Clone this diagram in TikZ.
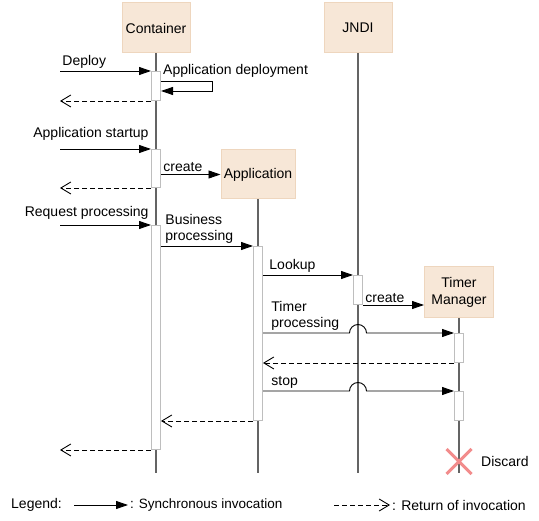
\documentclass[tikz,border=0pt]{standalone}
\usepackage{fontspec}
\setmainfont{Liberation Sans}
\usetikzlibrary{positioning}
\usetikzlibrary{arrows.meta,calc}
\definecolor{boxfill}{RGB}{247,231,215}
\definecolor{boxline}{RGB}{238,214,190}
\definecolor{lifegray}{RGB}{100,100,100}
\definecolor{bargray}{RGB}{190,190,190}
\definecolor{crosspink}{RGB}{242,140,140}
\tikzset{
 lbl/.style={font=\fontsize{14}{16.5}\selectfont,inner sep=2pt,align=left},
 lifebox/.style={lbl,draw=boxline,fill=boxfill,line width=1pt,align=center,minimum width=68,minimum height=50},
 life/.style={draw=lifegray,line width=1.2pt},
 actbar/.style={draw=bargray,fill=white,line width=1pt,minimum width=9,minimum height=#1,anchor=north,inner sep=0pt},
 sync/.style={line width=0.9pt,-{Triangle[length=12pt,width=8pt]}},
 ret/.style={line width=0.9pt,dash pattern=on 5pt off 3pt,-{Straight Barb[length=10pt,width=12pt]}}
}

\begin{document}
\begin{tikzpicture}[x=1pt,y=-1pt]
 \useasboundingbox (0,0) rectangle (539,521);
 \coordinate (gate) at (60,0);
 \coordinate (bot) at (0,473);
 \node[lifebox] (cont) at (156,28) {Container};
 \node[lifebox] (jndi) at (358,28) {JNDI};
 \node[lifebox,minimum width=74,minimum height=49] (app) at (258,174.5) {Application};
 \node[lifebox,minimum width=69,minimum height=51] (tm) at (459,292.5) {Timer\\Manager};
 \foreach \n in {cont,jndi,app,tm}
  \draw[life] (\n.south) -- (\n.south |- bot);
 \node[actbar=29] (c1) at (156,71) {};
 \node[actbar=38] (c2) at (156,149) {};
 \node[actbar=224] (c3) at (156,225) {};
 \node[actbar=174] (a1) at (258,246) {};
 \node[actbar=29] (j1) at (358,275) {};
 \node[actbar=29] (t1) at (459,333) {};
 \node[actbar=29] (t2) at (459,391) {};
 \draw[sync] (gate |- c1.north) node[lbl,above right] {Deploy} -- (c1.north west);
 \node[lbl,anchor=west] (deplbl) at (c1.north east) {Application deployment};
 \draw[sync] ([yshift=-10]c1.north east) -- +(51,0) -- +(51,10) -- ([yshift=-20]c1.north east);
 \draw[ret] (c1.south west) -- (gate |- c1.south);
 \draw[sync] (gate |- c2.north) -- (c2.north west) node[lbl,above left,yshift=6] {Application startup};
 \draw[sync] (c2.east |- app.west) node[lbl,above right] {create} -- (app.west);
 \draw[ret] (c2.south west) -- (gate |- c2.south);
 \draw[sync] (gate |- c3.north) -- (c3.north west) node[lbl,above left,yshift=3] {Request processing};
 \draw[sync] (c3.east |- a1.north) node[lbl,above right,xshift=2] {Business\\processing} -- (a1.north west);
 \draw[sync] (a1.east |- j1.north) node[lbl,above right,xshift=4] {Lookup} -- (j1.north west);
 \draw[sync] (j1.south east) node[lbl,above right] {create} -- (j1.south east -| tm.west);
 \draw[sync] (a1.east |- t1.north) node[lbl,above right,xshift=6] {Timer\\processing}
  -- ($(jndi |- t1.north)+(-8.5,0)$) arc[start angle=180,end angle=360,radius=8.5] -- (t1.north west);
 \draw[ret] (t1.south west) -- (a1.east |- t1.south);
 \draw[sync] (a1.east |- t2.north) node[lbl,above right,xshift=6] {stop}
  -- ($(jndi |- t2.north)+(-8.5,0)$) arc[start angle=180,end angle=360,radius=8.5] -- (t2.north west);
 \draw[ret] (a1.south west) -- (c3.east |- a1.south);
 \draw[ret] (c3.south west) -- (gate |- c3.south);
 \coordinate (kill) at (459,461.5);
 \draw[crosspink,line width=3pt] ($(kill)+(-12.5,-12.5)$) -- ($(kill)+(12.5,12.5)$)
  ($(kill)+(-12.5,12.5)$) -- ($(kill)+(12.5,-12.5)$);
 \node[lbl,right=20pt of kill] (disc) {Discard};
 \node[lbl,anchor=west] (leg) at (9,505) {Legend:};
 \node[lbl,anchor=west,font=\fontsize{13.5}{16}\selectfont] (synct) at (128,505) {: Synchronous invocation};
 \draw[sync] ([xshift=10]leg.east) -- (synct.west);
 \node[lbl,anchor=west] (rett) at (390,505) {: Return of invocation};
 \draw[ret] ([xshift=-56]rett.west) -- (rett.west);
\end{tikzpicture}
\end{document}
